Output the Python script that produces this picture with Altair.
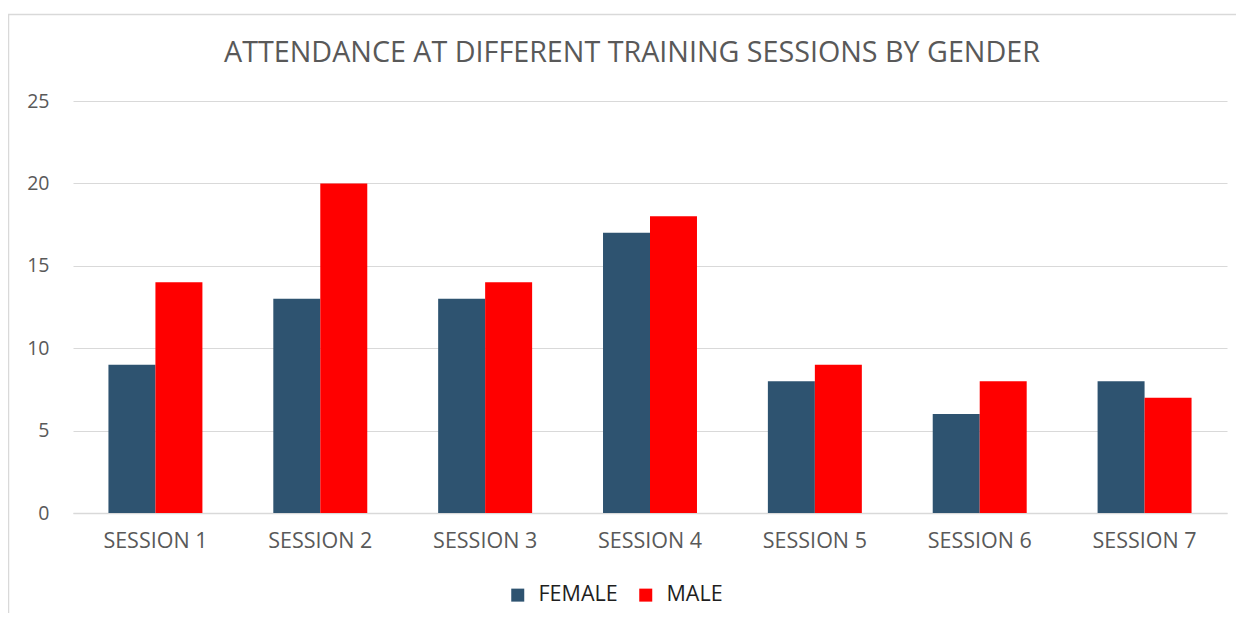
import altair as alt
import pandas as pd

sessions = ["SESSION 1", "SESSION 2", "SESSION 3", "SESSION 4", "SESSION 5", "SESSION 6", "SESSION 7"]
female = [9, 13, 13, 17, 8, 6, 8]
male = [14, 20, 14, 18, 9, 8, 7]
genders = ["FEMALE", "MALE"]
colors = ["#2E5370", "#FF0000"]
y_ticks = [0, 5, 10, 15, 20, 25]
title_text = "ATTENDANCE AT DIFFERENT TRAINING SESSIONS BY GENDER"

rows = []
for s, f, m in zip(sessions, female, male):
    rows.append({"session": s, "gender": "FEMALE", "value": f})
    rows.append({"session": s, "gender": "MALE", "value": m})
df = pd.DataFrame(rows)

FONT = "Open Sans"

bars = alt.Chart(df).mark_bar().encode(
    x=alt.X("session:N", sort=sessions, title=None,
            scale=alt.Scale(paddingInner=0.43, paddingOuter=0.215),
            axis=alt.Axis(labelAngle=0, labelFontSize=21.5, labelColor="#595959",
                          labelFont=FONT, labelPadding=17, ticks=False,
                          domainColor="#d9d9d9", domainWidth=1.5)),
    xOffset=alt.XOffset("gender:N", sort=genders),
    y=alt.Y("value:Q", title=None,
            scale=alt.Scale(domain=[0, 25], nice=False),
            axis=alt.Axis(values=y_ticks, labelFontSize=19.5, labelColor="#595959",
                          labelFont=FONT, labelPadding=24, ticks=False, domain=False,
                          gridColor="#d9d9d9", gridWidth=1.2)),
    color=alt.Color("gender:N", sort=genders,
                    scale=alt.Scale(domain=genders, range=colors),
                    legend=alt.Legend(title=None, orient="none", direction="horizontal",
                                      legendX=434, legendY=483,
                                      symbolType="square", symbolSize=169,
                                      symbolStrokeWidth=0,
                                      labelFontSize=21.5, labelFont=FONT, labelColor="#1f1f1f",
                                      labelOffset=10, columnPadding=17)),
)

frame = alt.Chart(pd.DataFrame({"a": [0]})).mark_rect(
    fill=None, stroke="#d9d9d9", strokeWidth=1.5
).encode(
    x=alt.value(-64.5), x2=alt.value(1169.5),
    y=alt.value(-86.5), y2=alt.value(540),
)

title = alt.Chart(pd.DataFrame({"t": [title_text]})).mark_text(
    font=FONT, fontSize=28.7, color="#595959", align="center", baseline="alphabetic"
).encode(
    text="t:N", x=alt.value(559), y=alt.value(-39),
)

chart = alt.layer(frame, bars, title).properties(
    width=1154, height=412,
    autosize=alt.AutoSizeParams(type="none"),
    padding={"left": 65, "top": 93, "right": 9, "bottom": 100},
).configure_view(stroke=None)

chart.save("out.html", embed_options={"renderer": "svg", "actions": False})
